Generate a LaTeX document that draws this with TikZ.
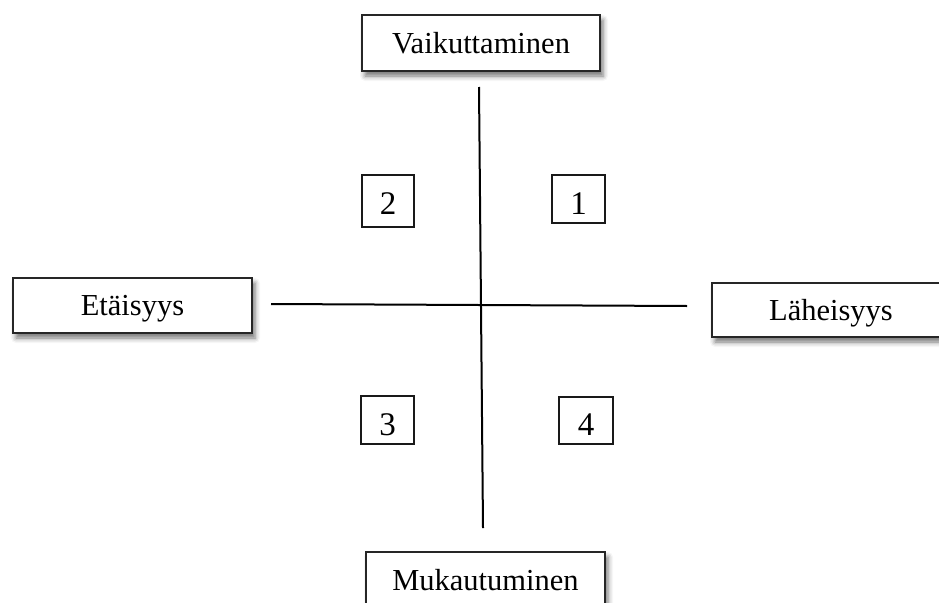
\documentclass[tikz,border=0pt]{standalone}
\usepackage{fontspec}
\setmainfont{Liberation Serif}
\usetikzlibrary{shadows.blur}
\begin{document}
\begin{tikzpicture}[x=1pt,y=-1pt,
  lbl/.style={draw=black!85, line width=1.6pt, fill=white, inner sep=0pt,
    minimum width=238pt, minimum height=56pt, text height=22pt, text depth=2pt,
    font=\fontsize{30.5}{36}\selectfont,
    blur shadow={shadow xshift=3pt, shadow yshift=-5pt, shadow blur radius=5pt, shadow opacity=55}},
  numbox/.style={draw=black!90, line width=1.1pt, fill=white, inner sep=0pt,
    text height=26pt, text depth=0pt,
    font=\fontsize{33}{38}\selectfont},
  axis/.style={line width=2pt, black}]
\useasboundingbox (0,0) rectangle (939,602);
\clip (0,0) rectangle (939,602);
\node[lbl] (top) at (481,43) {Vaikuttaminen};
\node[lbl, minimum width=239pt, minimum height=55pt] (left) at (132.5,305.5) {Etäisyys};
\node[lbl, minimum height=54pt] (right) at (831,310) {Läheisyys};
\node[lbl, minimum width=239pt] (bottom) at (485.5,580) {Mukautuminen};
\node[numbox, minimum width=52pt, minimum height=52pt, text height=27pt] (n2) at (388,201) {2};
\node[numbox, minimum width=53pt, minimum height=48pt, text height=31pt] (n1) at (578.5,199) {1};
\node[numbox, minimum width=53pt, minimum height=48pt, text height=30pt] (n3) at (387.5,420) {3};
\node[numbox, minimum width=54pt, minimum height=47pt, text height=30pt] (n4) at (586,420.5) {4};
\coordinate (vt) at (479,87);
\coordinate (vb) at (483,528);
\coordinate (hl) at (271,304);
\coordinate (hr) at (687,306);
\draw[axis] (vt) -- (vb);
\draw[axis] (hl) -- (hr);
\end{tikzpicture}
\end{document}
